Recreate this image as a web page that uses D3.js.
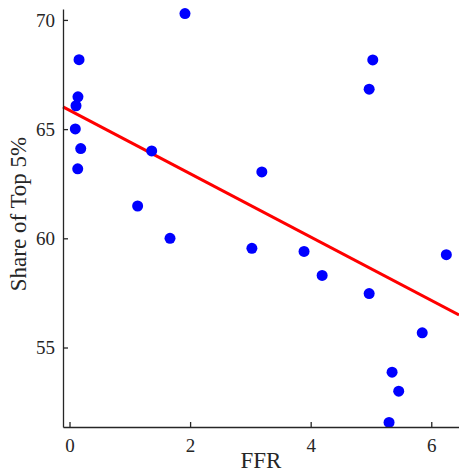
<!DOCTYPE html>
<html>
<head>
<meta charset="utf-8">
<script src="https://cdn.jsdelivr.net/npm/d3@7"></script>
<style>
  body { margin: 0; background: #fff; }
  text { font-family: "Liberation Serif", "DejaVu Serif", serif; fill: #262626; }
</style>
</head>
<body>
<div id="chart"></div>
<script>
// points
var ffr = [1.915, 0.158, 0.14, 0.108, 0.096, 0.186, 0.136, 1.13, 1.363, 1.667, 3.19,
           3.025, 3.89, 4.19, 4.97, 5.03, 4.97, 5.85, 5.35, 5.46, 5.30, 6.25];
var top5 = [70.29, 68.18, 66.48, 66.07, 65.01, 64.11, 63.18, 61.48, 64.0, 60.0, 63.04,
            59.54, 59.4, 58.3, 57.47, 68.17, 66.83, 55.67, 53.87, 53.0, 51.57, 59.25];
var fitLine = [65.86, -1.45]; // intercept, slope
var xTicks = [0, 2, 4, 6];
var yTicks = [55, 60, 65, 70];

var width = 459, height = 473;
var margin = {left: 63, right: 0, top: 9, bottom: 46};

var svg = d3.select("#chart").append("svg")
    .attr("width", width)
    .attr("height", height);

var x = d3.scaleLinear().domain([-0.108, 6.46]).range([margin.left, width - margin.right]);
var y = d3.scaleLinear().domain([51.36, 70.5]).range([height - margin.bottom, margin.top]);

// fit line
var xd = x.domain();
svg.append("line")
    .attr("x1", x(xd[0])).attr("y1", y(fitLine[0] + fitLine[1] * xd[0]))
    .attr("x2", x(xd[1])).attr("y2", y(fitLine[0] + fitLine[1] * xd[1]))
    .style("stroke", "#ff0000")
    .style("stroke-width", 3);

svg.selectAll("circle")
    .data(d3.range(ffr.length))
    .enter()
    .append("circle")
    .attr("cx", function(i) { return x(ffr[i]); })
    .attr("cy", function(i) { return y(top5[i]); })
    .attr("r", 5.5)
    .style("fill", "#0000ff");

var xAxis = svg.append("g")
    .attr("transform", "translate(0," + (height - margin.bottom) + ")")
    .call(d3.axisBottom(x).tickValues(xTicks).tickFormat(d3.format("d"))
      .tickSizeInner(-5).tickSizeOuter(0).tickPadding(12));
var yAxis = svg.append("g")
    .attr("transform", "translate(" + margin.left + ",0)")
    .call(d3.axisLeft(y).tickValues(yTicks).tickFormat(d3.format("d"))
      .tickSizeInner(-5).tickSizeOuter(0).tickPadding(8));

[xAxis, yAxis].forEach(function(a) {
  a.select(".domain").style("stroke", "#262626").style("stroke-width", 1.3);
  a.selectAll(".tick line").style("stroke", "#262626").style("stroke-width", 1.3);
  a.selectAll(".tick text").style("font-size", "19px").attr("fill", "#262626");
});

svg.append("text")
    .attr("x", 261).attr("y", 468)
    .attr("text-anchor", "middle")
    .style("font-size", "23px")
    .text("FFR");

svg.append("text")
    .attr("transform", "translate(26,214) rotate(-90)")
    .attr("text-anchor", "middle")
    .style("font-size", "23px")
    .text("Share of Top 5%");
</script>
</body>
</html>
